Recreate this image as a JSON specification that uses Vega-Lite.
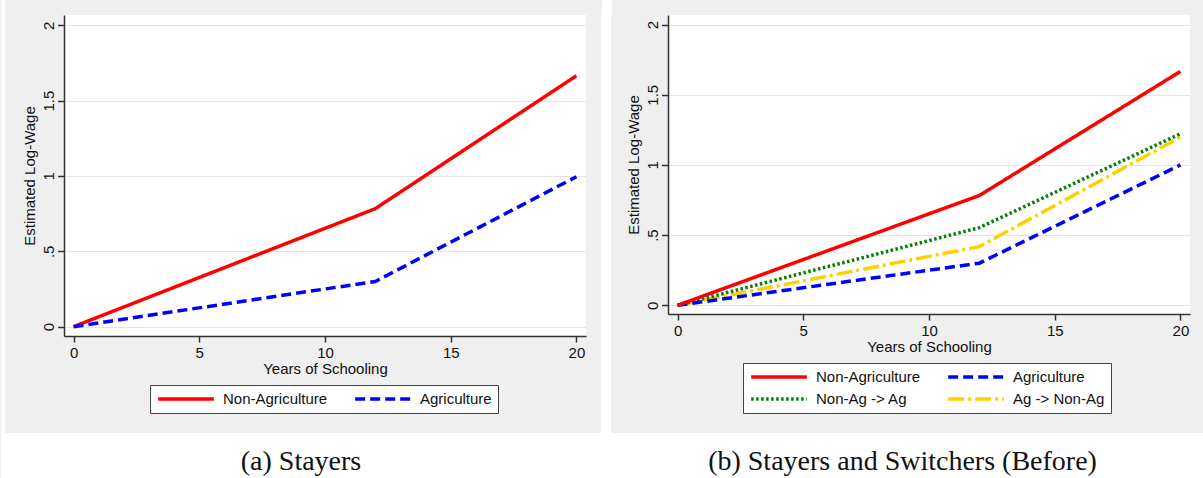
{
  "$schema": "https://vega.github.io/schema/vega-lite/v6.json",
  "background": "#efefef",
  "padding": 0,
  "spacing": 0,
  "resolve": {"scale": {"color": "independent", "strokeDash": "independent", "x": "independent", "y": "independent"}, "legend": {"color": "independent", "strokeDash": "independent"}},
  "datasets": {
    "a": [
      {"x": 0, "y": 0, "series": "Non-Agriculture"},
      {"x": 12, "y": 0.783, "series": "Non-Agriculture"},
      {"x": 20, "y": 1.665, "series": "Non-Agriculture"},
      {"x": 0, "y": 0, "series": "Agriculture"},
      {"x": 12, "y": 0.3, "series": "Agriculture"},
      {"x": 20, "y": 0.995, "series": "Agriculture"}
    ],
    "b": [
      {"x": 0, "y": 0, "series": "Ag -> Non-Ag"},
      {"x": 12, "y": 0.418, "series": "Ag -> Non-Ag"},
      {"x": 20, "y": 1.198, "series": "Ag -> Non-Ag"},
      {"x": 0, "y": 0, "series": "Non-Ag -> Ag"},
      {"x": 12, "y": 0.553, "series": "Non-Ag -> Ag"},
      {"x": 20, "y": 1.222, "series": "Non-Ag -> Ag"},
      {"x": 0, "y": 0, "series": "Agriculture"},
      {"x": 12, "y": 0.3, "series": "Agriculture"},
      {"x": 20, "y": 1.0, "series": "Agriculture"},
      {"x": 0, "y": 0, "series": "Non-Agriculture"},
      {"x": 12, "y": 0.782, "series": "Non-Agriculture"},
      {"x": 20, "y": 1.666, "series": "Non-Agriculture"}
    ],
    "capa": [{"caption": "(a) Stayers"}],
    "capb": [{"caption": "(b) Stayers and Switchers (Before)"}],
    "blank": [{}]
  },
  "config": {
    "view": {"stroke": null},
    "concat": {"spacing": 0},
    "font": "Liberation Sans",
    "axis": {
      "domainColor": "#333", "domainWidth": 1.5,
      "tickColor": "#333", "tickWidth": 1.5,
      "labelColor": "#111", "titleColor": "#111",
      "labelFont": "Liberation Sans", "titleFont": "Liberation Sans",
      "labelFontSize": 15, "titleFontSize": 15, "titleFontWeight": "normal",
      "labelFlush": false, "gridColor": "#e4e4e4", "gridWidth": 1
    },
    "axisX": {"grid": false, "tickSize": 6, "labelPadding": 3, "titlePadding": 1, "labelFontSize": 15},
    "axisY": {"grid": true, "tickSize": 6.5, "labelPadding": 4, "labelAngle": 270, "labelAlign": "center", "labelBaseline": "alphabetic", "titlePadding": 4, "labelFontSize": 15},
    "legend": {
      "orient": "none", "direction": "horizontal", "columns": 2,
      "symbolType": "stroke", "symbolSize": 3100, "symbolStrokeWidth": 3.5,
      "clipHeight": 16,
      "labelFont": "Liberation Sans", "labelFontSize": 15, "labelColor": "#111",
      "labelOffset": 7, "columnPadding": 25, "rowPadding": 6, "padding": 6,
      "strokeColor": "#444", "fillColor": "white"
    }
  },
  "vconcat": [
    {
      "spacing": 0,
      "hconcat": [
        {"width": 4, "height": 15, "data": {"name": "blank"}, "view": {"fill": "white"}, "mark": {"type": "point", "opacity": 0}, "encoding": {}},
        {"width": 596, "height": 15, "data": {"name": "blank"}, "mark": {"type": "point", "opacity": 0}, "encoding": {}},
        {"width": 10, "height": 15, "data": {"name": "blank"}, "view": {"fill": "white"}, "mark": {"type": "point", "opacity": 0}, "encoding": {}},
        {"width": 593, "height": 15, "data": {"name": "blank"}, "mark": {"type": "point", "opacity": 0}, "encoding": {}}
      ]
    },
    {
      "spacing": 0,
      "resolve": {"scale": {"color": "independent", "strokeDash": "independent", "x": "independent", "y": "independent"}, "legend": {"color": "independent", "strokeDash": "independent"}},
      "hconcat": [
        {"width": 4, "height": 418, "data": {"name": "blank"}, "view": {"fill": "white"}, "mark": {"type": "point", "opacity": 0}, "encoding": {}},
        {"width": 16, "height": 418, "data": {"name": "blank"}, "mark": {"type": "point", "opacity": 0}, "encoding": {}},
        {
          "width": 522, "height": 321,
          "view": {"fill": "white", "stroke": null},
          "data": {"name": "a"},
          "mark": {"type": "line", "strokeWidth": 3.5},
          "encoding": {
            "x": {"field": "x", "type": "quantitative", "scale": {"domain": [-0.38, 20.38], "nice": false, "zero": false}, "axis": {"title": "Years of Schooling", "values": [0, 5, 10, 15, 20], "labelFontSize": 15}},
            "y": {"field": "y", "type": "quantitative", "scale": {"domain": [-0.062, 2.068], "nice": false, "zero": false}, "axis": {"title": "Estimated Log-Wage", "values": [0, 0.5, 1, 1.5, 2], "labelFontSize": 15, "labelExpr": "datum.value == 0.5 ? '.5' : toString(datum.value)"}},
            "color": {"field": "series", "type": "nominal", "scale": {"domain": ["Non-Agriculture", "Agriculture"], "range": ["#ff0000", "#0000ff"]}, "legend": {"title": null, "legendX": 86, "legendY": 370}},
            "strokeDash": {"field": "series", "type": "nominal", "scale": {"domain": ["Non-Agriculture", "Agriculture"], "range": [[1, 0], [10, 5]]}, "legend": {"title": null, "legendX": 86, "legendY": 370}}
          }
        },
        {"width": 15, "height": 418, "data": {"name": "blank"}, "mark": {"type": "point", "opacity": 0}, "encoding": {}},
        {"width": 10, "height": 418, "data": {"name": "blank"}, "view": {"fill": "white"}, "mark": {"type": "point", "opacity": 0}, "encoding": {}},
        {"width": 15, "height": 418, "data": {"name": "blank"}, "mark": {"type": "point", "opacity": 0}, "encoding": {}},
        {
          "width": 522, "height": 299,
          "view": {"fill": "white", "stroke": null},
          "data": {"name": "b"},
          "mark": {"type": "line", "strokeWidth": 3.5},
          "encoding": {
            "x": {"field": "x", "type": "quantitative", "scale": {"domain": [-0.38, 20.38], "nice": false, "zero": false}, "axis": {"title": "Years of Schooling", "values": [0, 5, 10, 15, 20], "labelFontSize": 15}},
            "y": {"field": "y", "type": "quantitative", "scale": {"domain": [-0.062, 2.068], "nice": false, "zero": false}, "axis": {"title": "Estimated Log-Wage", "values": [0, 0.5, 1, 1.5, 2], "labelFontSize": 15, "labelExpr": "datum.value == 0.5 ? '.5' : toString(datum.value)"}},
            "color": {"field": "series", "type": "nominal", "scale": {"domain": ["Non-Agriculture", "Agriculture", "Non-Ag -> Ag", "Ag -> Non-Ag"], "range": ["#ff0000", "#0000ff", "#008000", "#ffd000"]}, "legend": {"title": null, "legendX": 75, "legendY": 348}},
            "strokeDash": {"field": "series", "type": "nominal", "scale": {"domain": ["Non-Agriculture", "Agriculture", "Non-Ag -> Ag", "Ag -> Non-Ag"], "range": [[1, 0], [10, 5], [2.5, 2.5], [16, 4, 3, 4]]}, "legend": {"title": null, "legendX": 75, "legendY": 348}}
          }
        },
        {"width": 13, "height": 418, "data": {"name": "blank"}, "mark": {"type": "point", "opacity": 0}, "encoding": {}}
      ]
    },
    {
      "spacing": 0,
      "hconcat": [
        {"width": 600, "height": 45, "data": {"name": "capa"}, "view": {"fill": "white"}, "mark": {"type": "text", "font": "Liberation Serif", "fontSize": 28, "color": "#111", "baseline": "middle", "dy": 6}, "encoding": {"text": {"field": "caption", "type": "nominal"}}},
        {"width": 603, "height": 45, "data": {"name": "capb"}, "view": {"fill": "white"}, "mark": {"type": "text", "font": "Liberation Serif", "fontSize": 28, "color": "#111", "baseline": "middle", "dy": 6}, "encoding": {"text": {"field": "caption", "type": "nominal"}}}
      ]
    }
  ]
}
